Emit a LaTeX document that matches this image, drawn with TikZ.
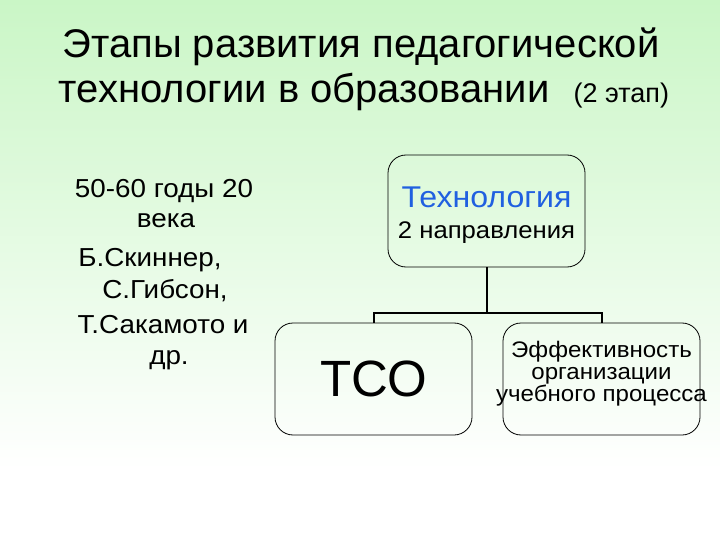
\documentclass[tikz,border=0pt]{standalone}
\usepackage{fontspec}
\setmainfont{Liberation Sans}
\newfontfamily\widesans[FakeStretch=1.07]{Liberation Sans}
\definecolor{bgtop}{RGB}{202,246,198}
\definecolor{techblue}{RGB}{32,96,224}
\begin{document}
\begin{tikzpicture}[x=1pt,y=-1pt,
  box/.style={draw=black, line width=0.8pt, rounded corners=18pt, minimum width=197pt, minimum height=112pt, inner sep=0pt, align=center},
  link/.style={line width=2pt},
  txt/.style={anchor=base, inner sep=0pt},
  lefttxt/.style={txt, font=\widesans\fontsize{26}{30}\selectfont}]
\useasboundingbox (0,0) rectangle (720,540);
\fill[white] (0,0) rectangle (720,540);
\shade[top color=bgtop, bottom color=white] (0,0) rectangle (720,470);
% title
\node[txt] (t1) at (361,58) {\fontsize{40}{46}\selectfont Этапы развития педагогической};
\node[txt] (t2) at (364,103) {\fontsize{40}{46}\selectfont технологии в образовании\hspace{24pt}{\fontsize{27}{30}\selectfont (2 этап)}};
% left text
\node[lefttxt] (l1) at (164,198) {50-60 годы 20};
\node[lefttxt] (l2) at (166,228) {века};
\node[lefttxt] (l3) at (150,266) {Б.Скиннер,};
\node[lefttxt] (l4) at (165,298) {С.Гибсон,};
\node[lefttxt] (l5) at (163,333) {Т.Сакамото и};
\node[lefttxt] (l6) at (169,364) {др.};
% boxes
\node[box, font=\widesans\fontsize{24}{31}\selectfont] (tech) at (486.5,211)
  {\rule{0pt}{28pt}{\fontsize{30}{31}\selectfont\color{techblue}Технология}\\ 2 направления};
\node[box, font=\fontsize{51}{56}\selectfont] (tco) at (373.5,379) {ТСО};
\node[box, font=\widesans\fontsize{22.5}{22}\selectfont] (eff) at (601.5,379)
  {Эффективность\\ организации\\ \makebox[0pt][c]{учебного процесса}\rule[-14.5pt]{0pt}{0pt}};
% connectors
\coordinate (bus) at (486.5,313);
\draw[link] (tech.south) -- (bus);
\draw[link] (tco.north) -- (tco.north |- bus) -- (eff.north |- bus) -- (eff.north);
\end{tikzpicture}
\end{document}
